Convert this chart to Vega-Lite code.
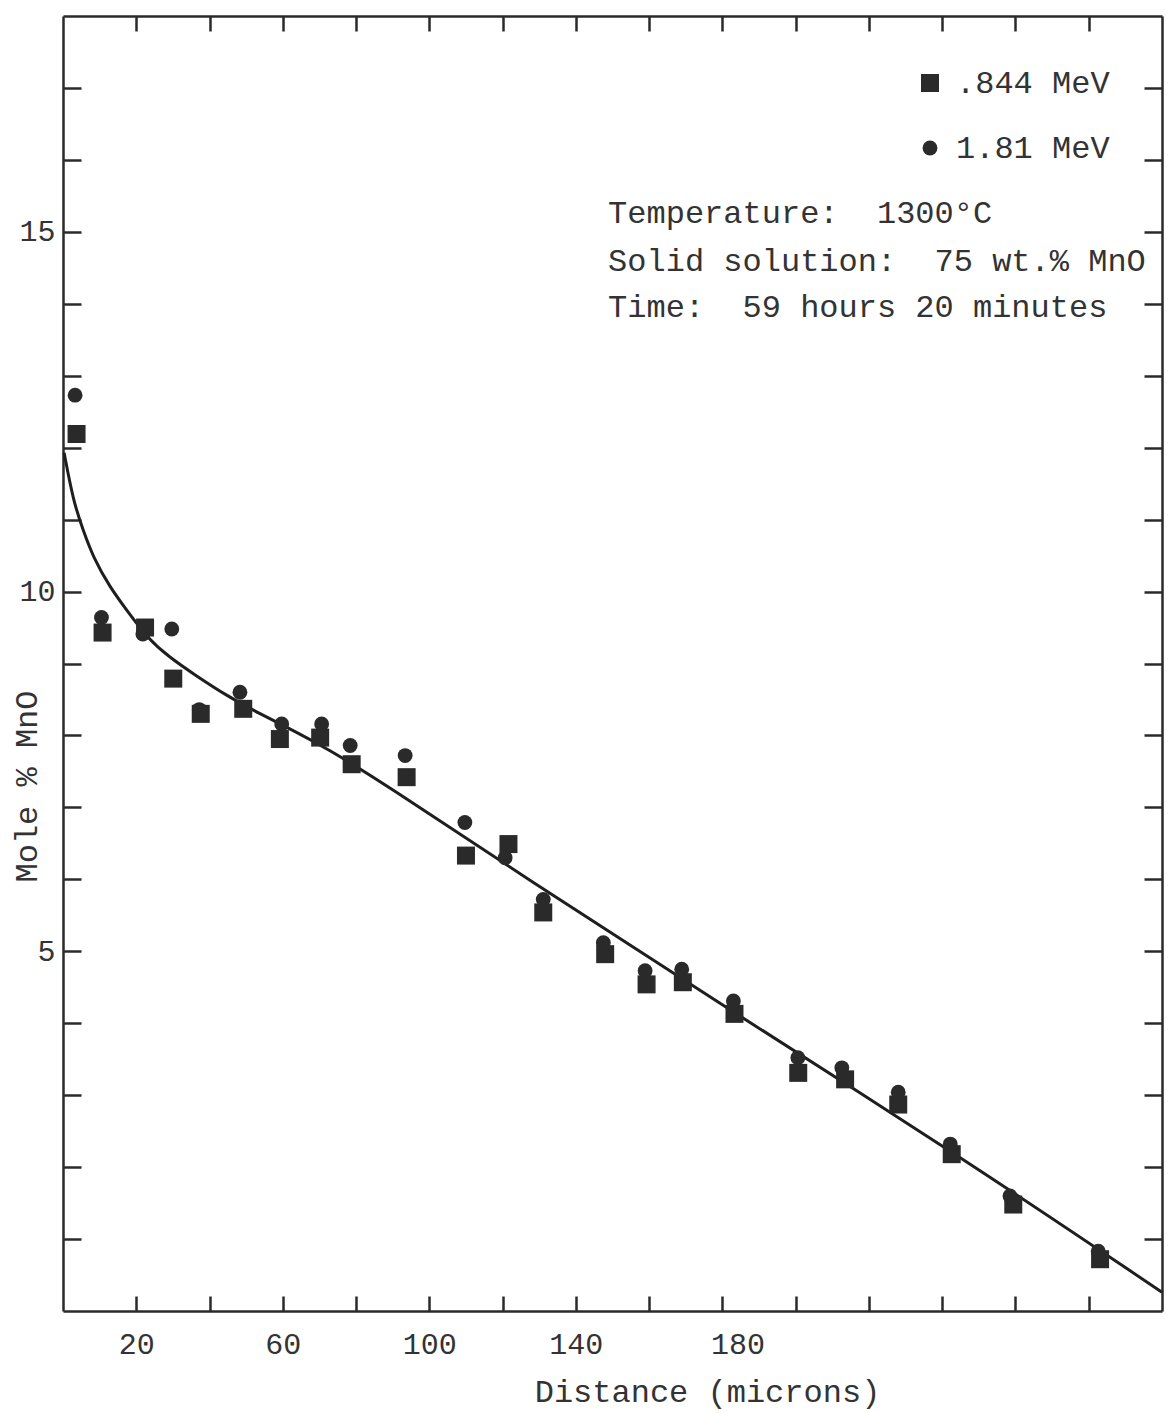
{
  "$schema": "https://vega.github.io/schema/vega-lite/v6.json",
  "width": 1099,
  "height": 1295,
  "autosize": {"type": "none"},
  "padding": {"left": 63, "top": 16, "right": 4, "bottom": 102},
  "background": "white",
  "config": {"view": {"stroke": null}, "font": "Liberation Mono"},
  "datasets": {
    "curve": [
      {"distance": 0.3, "mole_pct": 11.93},
      {"distance": 2.8, "mole_pct": 11.26},
      {"distance": 5.5, "mole_pct": 10.85},
      {"distance": 8.3, "mole_pct": 10.47},
      {"distance": 12.8, "mole_pct": 10.06},
      {"distance": 17.4, "mole_pct": 9.74},
      {"distance": 22.9, "mole_pct": 9.36},
      {"distance": 29.2, "mole_pct": 9.08},
      {"distance": 35.5, "mole_pct": 8.86},
      {"distance": 44.7, "mole_pct": 8.55},
      {"distance": 53.8, "mole_pct": 8.30},
      {"distance": 62.8, "mole_pct": 8.07},
      {"distance": 72.0, "mole_pct": 7.82},
      {"distance": 86.5, "mole_pct": 7.37},
      {"distance": 127.5, "mole_pct": 5.98},
      {"distance": 173.9, "mole_pct": 4.45},
      {"distance": 246.7, "mole_pct": 2.09},
      {"distance": 300, "mole_pct": 0.26}
    ],
    "points": [
      {"energy": ".844 MeV", "distance": 3.7, "mole_pct": 12.19},
      {"energy": ".844 MeV", "distance": 10.8, "mole_pct": 9.43},
      {"energy": ".844 MeV", "distance": 22.4, "mole_pct": 9.50},
      {"energy": ".844 MeV", "distance": 30.1, "mole_pct": 8.79},
      {"energy": ".844 MeV", "distance": 37.6, "mole_pct": 8.30},
      {"energy": ".844 MeV", "distance": 49.2, "mole_pct": 8.37},
      {"energy": ".844 MeV", "distance": 59.2, "mole_pct": 7.95},
      {"energy": ".844 MeV", "distance": 70.2, "mole_pct": 7.97},
      {"energy": ".844 MeV", "distance": 78.8, "mole_pct": 7.60},
      {"energy": ".844 MeV", "distance": 93.8, "mole_pct": 7.42},
      {"energy": ".844 MeV", "distance": 110.0, "mole_pct": 6.33},
      {"energy": ".844 MeV", "distance": 121.6, "mole_pct": 6.49},
      {"energy": ".844 MeV", "distance": 131.1, "mole_pct": 5.54},
      {"energy": ".844 MeV", "distance": 148.0, "mole_pct": 4.96},
      {"energy": ".844 MeV", "distance": 159.3, "mole_pct": 4.54},
      {"energy": ".844 MeV", "distance": 169.2, "mole_pct": 4.57},
      {"energy": ".844 MeV", "distance": 183.3, "mole_pct": 4.13},
      {"energy": ".844 MeV", "distance": 200.7, "mole_pct": 3.31},
      {"energy": ".844 MeV", "distance": 213.5, "mole_pct": 3.22},
      {"energy": ".844 MeV", "distance": 228.0, "mole_pct": 2.87},
      {"energy": ".844 MeV", "distance": 242.6, "mole_pct": 2.18},
      {"energy": ".844 MeV", "distance": 259.4, "mole_pct": 1.48},
      {"energy": ".844 MeV", "distance": 283.1, "mole_pct": 0.72},
      {"energy": "1.81 MeV", "distance": 3.3, "mole_pct": 12.73},
      {"energy": "1.81 MeV", "distance": 10.5, "mole_pct": 9.64},
      {"energy": "1.81 MeV", "distance": 21.8, "mole_pct": 9.41},
      {"energy": "1.81 MeV", "distance": 29.7, "mole_pct": 9.48},
      {"energy": "1.81 MeV", "distance": 37.2, "mole_pct": 8.36},
      {"energy": "1.81 MeV", "distance": 48.3, "mole_pct": 8.60},
      {"energy": "1.81 MeV", "distance": 59.7, "mole_pct": 8.16},
      {"energy": "1.81 MeV", "distance": 70.6, "mole_pct": 8.16},
      {"energy": "1.81 MeV", "distance": 78.4, "mole_pct": 7.86},
      {"energy": "1.81 MeV", "distance": 93.4, "mole_pct": 7.72},
      {"energy": "1.81 MeV", "distance": 109.7, "mole_pct": 6.79},
      {"energy": "1.81 MeV", "distance": 120.7, "mole_pct": 6.30},
      {"energy": "1.81 MeV", "distance": 131.1, "mole_pct": 5.72},
      {"energy": "1.81 MeV", "distance": 147.5, "mole_pct": 5.12},
      {"energy": "1.81 MeV", "distance": 158.9, "mole_pct": 4.73},
      {"energy": "1.81 MeV", "distance": 168.9, "mole_pct": 4.75},
      {"energy": "1.81 MeV", "distance": 183.0, "mole_pct": 4.31},
      {"energy": "1.81 MeV", "distance": 200.6, "mole_pct": 3.52},
      {"energy": "1.81 MeV", "distance": 212.6, "mole_pct": 3.38},
      {"energy": "1.81 MeV", "distance": 228.0, "mole_pct": 3.04},
      {"energy": "1.81 MeV", "distance": 242.2, "mole_pct": 2.32},
      {"energy": "1.81 MeV", "distance": 258.5, "mole_pct": 1.60},
      {"energy": "1.81 MeV", "distance": 282.6, "mole_pct": 0.83}
    ],
    "notes": [
      {"distance": 148.8, "mole_pct": 15.12, "label": "Temperature:\u00a0 1300°C"},
      {"distance": 148.8, "mole_pct": 14.46, "label": "Solid solution:\u00a0 75 wt.% MnO"},
      {"distance": 148.8, "mole_pct": 13.82, "label": "Time:\u00a0 59 hours 20 minutes"}
    ]
  },
  "layer": [
    {
      "data": {"name": "curve"},
      "mark": {"type": "line", "interpolate": "basis", "color": "#1e1e1e", "strokeWidth": 3},
      "encoding": {
        "x": {
          "field": "distance", "type": "quantitative",
          "scale": {"domain": [0, 300], "nice": false, "zero": false},
          "axis": {
            "orient": "bottom",
            "values": [20, 40, 60, 80, 100, 120, 140, 160, 180, 200, 220, 240, 260, 280],
            "labelExpr": "indexof([20, 60, 100, 140, 180], datum.value) >= 0 ? datum.label : ''",
            "grid": false,
            "domainColor": "#2a2a2a", "domainWidth": 2.5,
            "tickColor": "#2a2a2a", "tickWidth": 2.5, "tickSize": -15,
            "labelFont": "Liberation Mono", "labelFontSize": 30, "labelColor": "#333333",
            "labelBaseline": "alphabetic", "labelPadding": 57,
            "labelOffset": {"condition": {"test": "datum.value == 180", "value": 15}, "value": 0},
            "labelFlush": false, "labelOverlap": false,
            "title": "Distance (microns)",
            "titleFont": "Liberation Mono", "titleFontSize": 32, "titleFontWeight": "normal", "titleColor": "#333333",
            "titleX": 644, "titleY": 90, "titleAlign": "center", "titleBaseline": "alphabetic"
          }
        },
        "y": {
          "field": "mole_pct", "type": "quantitative",
          "scale": {"domain": [0, 18], "nice": false, "zero": false},
          "axis": {
            "orient": "left",
            "values": [1, 2, 3, 4, 5, 6, 7, 8, 9, 10, 11, 12, 13, 14, 15, 16, 17],
            "labelExpr": "indexof([5, 10, 15], datum.value) >= 0 ? datum.label : ''",
            "grid": false,
            "domainColor": "#2a2a2a", "domainWidth": 2.5,
            "tickColor": "#2a2a2a", "tickWidth": 2.5, "tickSize": -18,
            "labelFont": "Liberation Mono", "labelFontSize": 30, "labelColor": "#333333",
            "labelPadding": 26, "labelFlush": false, "labelOverlap": false,
            "title": "Mole % MnO",
            "titleFont": "Liberation Mono", "titleFontSize": 32, "titleFontWeight": "normal", "titleColor": "#333333",
            "titleX": -27, "titleY": 770, "titleAlign": "center", "titleBaseline": "alphabetic", "titleAngle": 270
          }
        }
      }
    },
    {
      "data": {"name": "points"},
      "mark": {"type": "point", "filled": true, "opacity": 1, "color": "#2a2a2a"},
      "encoding": {
        "x": {
          "field": "distance", "type": "quantitative",
          "scale": {"domain": [0, 300], "nice": false, "zero": false},
          "axis": {
            "orient": "top",
            "values": [20, 40, 60, 80, 100, 120, 140, 160, 180, 200, 220, 240, 260, 280],
            "labels": false, "title": null, "grid": false,
            "domainColor": "#2a2a2a", "domainWidth": 2.5,
            "tickColor": "#2a2a2a", "tickWidth": 2.5, "tickSize": -15
          }
        },
        "y": {
          "field": "mole_pct", "type": "quantitative",
          "scale": {"domain": [0, 18], "nice": false, "zero": false},
          "axis": {
            "orient": "right",
            "values": [1, 2, 3, 4, 5, 6, 7, 8, 9, 10, 11, 12, 13, 14, 15, 16, 17],
            "labels": false, "title": null, "grid": false,
            "domainColor": "#2a2a2a", "domainWidth": 2.5,
            "tickColor": "#2a2a2a", "tickWidth": 2.5, "tickSize": -18
          }
        },
        "shape": {
          "field": "energy", "type": "nominal",
          "scale": {"domain": [".844 MeV", "1.81 MeV"], "range": ["square", "circle"]},
          "legend": {
            "orient": "none", "legendX": 851, "legendY": 51, "title": null, "padding": 0,
            "labelFont": "Liberation Mono", "labelFontSize": 32, "labelColor": "#333333",
            "rowPadding": 33, "labelOffset": 10,
            "symbolFillColor": "#2a2a2a", "symbolStrokeWidth": 0, "symbolOpacity": 1
          }
        },
        "size": {
          "field": "energy", "type": "nominal",
          "scale": {"domain": [".844 MeV", "1.81 MeV"], "range": [324, 220]},
          "legend": {
            "orient": "none", "legendX": 851, "legendY": 51, "title": null, "padding": 0,
            "labelFont": "Liberation Mono", "labelFontSize": 32, "labelColor": "#333333",
            "rowPadding": 33, "labelOffset": 10,
            "symbolFillColor": "#2a2a2a", "symbolStrokeWidth": 0, "symbolOpacity": 1
          }
        }
      }
    },
    {
      "data": {"name": "notes"},
      "mark": {"type": "text", "align": "left", "baseline": "alphabetic", "font": "Liberation Mono", "fontSize": 32, "color": "#333333"},
      "encoding": {
        "x": {"field": "distance", "type": "quantitative", "scale": {"domain": [0, 300], "nice": false, "zero": false}, "axis": null},
        "y": {"field": "mole_pct", "type": "quantitative", "scale": {"domain": [0, 18], "nice": false, "zero": false}, "axis": null},
        "text": {"field": "label", "type": "nominal"}
      }
    }
  ],
  "resolve": {"axis": {"x": "independent", "y": "independent"}}
}
